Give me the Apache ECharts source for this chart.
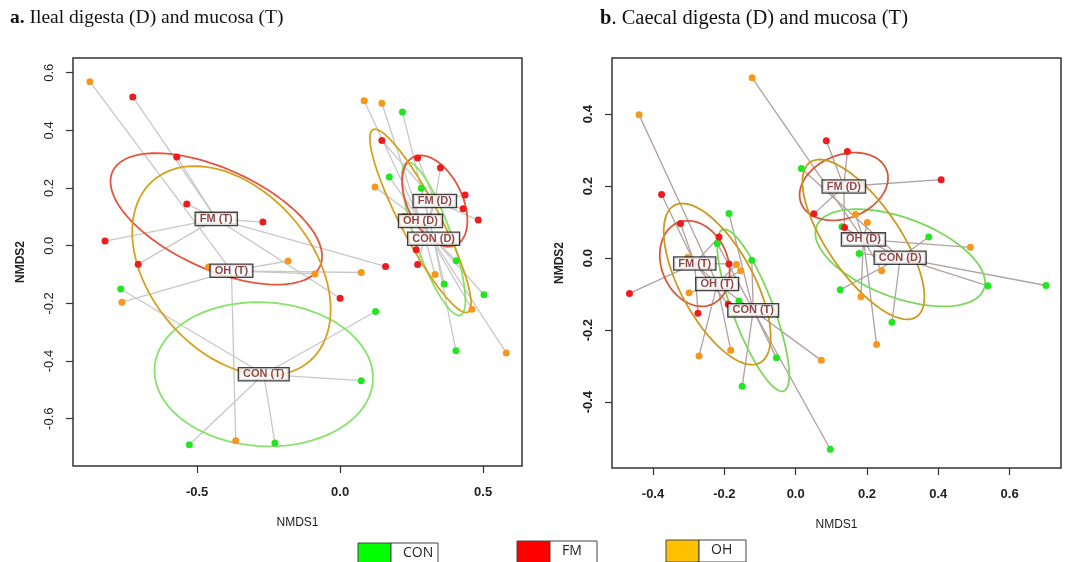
<!DOCTYPE html>
<html>
<head>
<meta charset="utf-8">
<script src="https://cdn.jsdelivr.net/npm/echarts@6/dist/echarts.min.js"></script>
<style>
  html, body { margin: 0; padding: 0; background: #fff; }
  #chart { width: 1070px; height: 562px; }
</style>
</head>
<body>
<div id="chart"></div>
<script>
// groups: CON, FM, OH  (centroid index % 3)
var groupNames = ['CON', 'FM', 'OH'];
var groupColors = ['#22E622', '#EE1C1C', '#F7971C'];
var legendColors = ['#00FF00', '#FF0000', '#FFC000'];

var centroidLabels = ['CON (T)', 'FM (T)', 'OH (T)', 'CON (D)', 'FM (D)', 'OH (D)'];

// ---- panel a: ileal ----
var aCentroidX = [-0.267, -0.433, -0.380, 0.327, 0.331, 0.281];
var aCentroidY = [-0.446, 0.093, -0.087, 0.024, 0.155, 0.086];
var aEllipseWx = [0.382, 0.370, 0.347, 0.111, 0.114, 0.177];
var aEllipseWy = [0.250, 0.228, 0.363, 0.266, 0.158, 0.318];
var aEllipseRho = [-0.05, -0.57, -0.37, -0.80, -0.43, -0.90];
// [NMDS1, NMDS2, centroid index]
var aPoints = [
  [-0.767, -0.150, 0], [0.124, -0.228, 0], [0.074, -0.468, 0], [-0.527, -0.690, 0], [-0.228, -0.684, 0],
  [-0.725, 0.516, 1], [-0.571, 0.308, 1], [-0.536, 0.145, 1], [-0.270, 0.082, 1], [-0.822, 0.016, 1],
  [-0.706, -0.064, 1], [0.159, -0.072, 1], [0.000, -0.182, 1],
  [-0.875, 0.569, 2], [-0.460, -0.074, 2], [-0.182, -0.053, 2], [-0.088, -0.098, 2], [0.074, -0.093, 2],
  [-0.763, -0.196, 2], [-0.365, -0.676, 2],
  [0.218, 0.464, 3], [0.172, 0.238, 3], [0.284, 0.199, 3], [0.406, -0.052, 3], [0.364, -0.133, 3],
  [0.503, -0.170, 3], [0.405, -0.364, 3],
  [0.146, 0.365, 4], [0.271, 0.304, 4], [0.351, 0.270, 4], [0.437, 0.176, 4], [0.430, 0.128, 4],
  [0.483, 0.089, 4], [0.266, -0.014, 4], [0.271, -0.065, 4],
  [0.084, 0.503, 5], [0.146, 0.494, 5], [0.122, 0.204, 5], [0.225, 0.101, 5], [0.332, -0.100, 5],
  [0.461, -0.220, 5], [0.581, -0.372, 5]
];
var aTicksX = [-0.5, 0, 0.5];
var aTicksY = [-0.6, -0.4, -0.2, 0, 0.2, 0.4, 0.6];

// ---- panel b: caecal ----
var bCentroidX = [-0.119, -0.283, -0.220, 0.293, 0.135, 0.190];
var bCentroidY = [-0.145, -0.015, -0.072, 0.001, 0.199, 0.052];
var bEllipseWx = [0.101, 0.098, 0.150, 0.238, 0.124, 0.171];
var bEllipseWy = [0.225, 0.119, 0.224, 0.135, 0.094, 0.222];
var bEllipseRho = [-0.80, -0.20, -0.65, -0.51, 0.25, -0.72];
var bPoints = [
  [-0.187, 0.124, 0], [-0.220, 0.041, 0], [-0.123, -0.006, 0], [-0.159, -0.119, 0], [-0.054, -0.277, 0],
  [-0.150, -0.356, 0], [0.097, -0.531, 0],
  [-0.376, 0.177, 1], [-0.323, 0.096, 1], [-0.215, 0.059, 1], [-0.187, -0.016, 1], [-0.466, -0.098, 1],
  [-0.274, -0.153, 1], [-0.189, -0.128, 1],
  [-0.439, 0.398, 2], [-0.303, 0.002, 2], [-0.166, -0.018, 2], [-0.154, -0.035, 2], [-0.299, -0.096, 2],
  [-0.182, -0.256, 2], [-0.271, -0.272, 2], [0.072, -0.284, 2],
  [0.016, 0.249, 3], [0.130, 0.087, 3], [0.373, 0.059, 3], [0.178, 0.013, 3], [0.125, -0.088, 3],
  [0.539, -0.077, 3], [0.702, -0.076, 3], [0.270, -0.178, 3],
  [0.086, 0.326, 4], [0.145, 0.296, 4], [0.408, 0.218, 4], [0.051, 0.123, 4], [0.137, 0.085, 4],
  [-0.122, 0.501, 5], [0.168, 0.121, 5], [0.201, 0.099, 5], [0.490, 0.030, 5], [0.241, -0.035, 5],
  [0.183, -0.107, 5], [0.227, -0.240, 5]
];
var bTicksX = [-0.4, -0.2, 0, 0.2, 0.4, 0.6];
var bTicksY = [-0.4, -0.2, 0, 0.2, 0.4];

var chart = echarts.init(document.getElementById('chart'));

function xAxisFor(idx, min, max, ticks) {
    return {
        gridIndex: idx, type: 'value', min: min, max: max,
        splitLine: { show: false },
        axisLine: { show: false, onZero: false },
        axisTick: { show: true, length: 7, customValues: ticks, lineStyle: { color: '#333', width: 1.2 } },
        axisLabel: {
            customValues: ticks, margin: 20, color: '#222', fontSize: 13, fontWeight: 'bold',
            fontFamily: 'Liberation Sans', formatter: function (v) { return v.toFixed(1); }
        },
        name: 'NMDS1', nameLocation: 'middle', nameGap: 51,
        nameTextStyle: { color: '#222', fontSize: 12, fontFamily: 'Liberation Sans' }
    };
}
function yAxisFor(idx, min, max, ticks, bold) {
    return {
        gridIndex: idx, type: 'value', min: min, max: max,
        splitLine: { show: false },
        axisLine: { show: false, onZero: false },
        axisTick: { show: true, length: 7, customValues: ticks, lineStyle: { color: '#333', width: 1.2 } },
        axisLabel: {
            customValues: ticks, margin: 17, rotate: 90, color: '#222', fontSize: 13,
            fontWeight: bold ? 'bold' : 'normal',
            fontFamily: 'Liberation Sans', formatter: function (v) { return v.toFixed(1); }
        },
        name: 'NMDS2', nameLocation: 'middle', nameGap: 46, nameRotate: 90,
        nameTextStyle: { color: '#222', fontSize: 12, fontWeight: 'bold', fontFamily: 'Liberation Sans' }
    };
}

function spiderSeries(idx, points, cx, cy, color) {
    return {
        type: 'custom', xAxisIndex: idx, yAxisIndex: idx, silent: true, z: 1,
        encode: { x: [0, 2], y: [1, 3] },
        data: points.map(function (p) { return [p[0], p[1], cx[p[2]], cy[p[2]]]; }),
        renderItem: function (params, api) {
            var a = api.coord([api.value(0), api.value(1)]);
            var b = api.coord([api.value(2), api.value(3)]);
            return { type: 'line', shape: { x1: a[0], y1: a[1], x2: b[0], y2: b[1] },
                     style: { stroke: color, lineWidth: 1.3 } };
        }
    };
}

function ellipseSeries(idx, cx, cy, wx, wy, rho, colors) {
    return {
        type: 'custom', xAxisIndex: idx, yAxisIndex: idx, silent: true, z: 2,
        data: cx.map(function (v, i) { return [cx[i], cy[i], wx[i], wy[i], rho[i], i % 3]; }),
        renderItem: function (params, api) {
            var x0 = api.value(0), y0 = api.value(1), sx = api.value(2), sy = api.value(3), r = api.value(4);
            var s = Math.sqrt(1 - r * r);
            var pts = [];
            for (var i = 0; i <= 96; i++) {
                var t = i / 96 * 2 * Math.PI;
                pts.push(api.coord([x0 + sx * Math.cos(t), y0 + sy * (r * Math.cos(t) + s * Math.sin(t))]));
            }
            return { type: 'polyline', shape: { points: pts },
                     style: { stroke: colors[api.value(5)], lineWidth: 1.8, fill: null } };
        }
    };
}

function pointSeries(idx, points) {
    return {
        type: 'scatter', xAxisIndex: idx, yAxisIndex: idx, symbolSize: 7, z: 3, silent: true,
        data: points,
        itemStyle: { opacity: 1, color: function (p) { return groupColors[p.value[2] % 3]; } }
    };
}

function labelSeries(idx, cx, cy) {
    return {
        type: 'scatter', xAxisIndex: idx, yAxisIndex: idx, symbolSize: 1, z: 5, silent: true,
        itemStyle: { color: 'rgba(0,0,0,0)' },
        data: centroidLabels.map(function (n, i) { return { name: n, value: [cx[i], cy[i]] }; }),
        label: {
            show: true, position: 'inside', formatter: function (p) { return p.name; },
            color: '#741818', fontSize: 11, fontWeight: 'bold', fontFamily: 'Liberation Sans',
            backgroundColor: '#fff', borderColor: '#111', borderWidth: 1.3, padding: [1, 4, 0, 4]
        }
    };
}

var legendGraphics = [];
var legendX = [358, 517, 666];
var legendTop = [543, 541, 540];
groupNames.forEach(function (g, i) {
    legendGraphics.push({ type: 'rect', shape: { x: legendX[i], y: legendTop[i], width: 33, height: 22 },
        style: { fill: legendColors[i], stroke: '#444', lineWidth: 1 } });
    legendGraphics.push({ type: 'rect', shape: { x: legendX[i] + 33, y: legendTop[i], width: 47, height: 22 },
        style: { fill: '#fff', stroke: '#444', lineWidth: 1 } });
    legendGraphics.push({ type: 'text', x: legendX[i] + 45, y: legendTop[i] + 10,
        style: { text: g, fill: '#222', font: '14px "Open Sans"', verticalAlign: 'middle' } });
});

var titleRich = { b: { fontWeight: 'bold', fontSize: 19.5, fontFamily: 'Liberation Serif', fill: '#111' } };
var titleRichB = { b: { fontWeight: 'bold', fontSize: 20.5, fontFamily: 'Liberation Serif', fill: '#111' } };

var option = {
    animation: false,
    backgroundColor: '#fff',
    grid: [
        { left: 73, top: 58, width: 449, height: 408, show: true, borderColor: '#333', borderWidth: 1.5 },
        { left: 612, top: 58, width: 449, height: 410, show: true, borderColor: '#333', borderWidth: 1.5 }
    ],
    xAxis: [
        xAxisFor(0, -0.934, 0.636, aTicksX),
        xAxisFor(1, -0.515, 0.744, bTicksX)
    ],
    yAxis: [
        yAxisFor(0, -0.764, 0.651, aTicksY, false),
        yAxisFor(1, -0.583, 0.556, bTicksY, true)
    ],
    graphic: [
        { type: 'text', left: 10, top: 8,
          style: { text: '{b|a.} Ileal digesta (D) and mucosa (T)', fill: '#111', font: '19.5px "Liberation Serif"',
                   rich: titleRich } },
        { type: 'text', left: 600, top: 8,
          style: { text: '{b|b}. Caecal digesta (D) and mucosa (T)', fill: '#111', font: '20.5px "Liberation Serif"',
                   rich: titleRichB } }
    ].concat(legendGraphics),
    series: [
        spiderSeries(0, aPoints, aCentroidX, aCentroidY, '#C8C8C8'),
        ellipseSeries(0, aCentroidX, aCentroidY, aEllipseWx, aEllipseWy, aEllipseRho, ['#86E36A', '#E4553F', '#D6A11F']),
        pointSeries(0, aPoints),
        labelSeries(0, aCentroidX, aCentroidY),
        spiderSeries(1, bPoints, bCentroidX, bCentroidY, '#B3A0A0'),
        ellipseSeries(1, bCentroidX, bCentroidY, bEllipseWx, bEllipseWy, bEllipseRho, ['#7DD65E', '#D35A3C', '#CB9A1E']),
        pointSeries(1, bPoints),
        labelSeries(1, bCentroidX, bCentroidY)
    ]
};
chart.setOption(option);
</script>
</body>
</html>
